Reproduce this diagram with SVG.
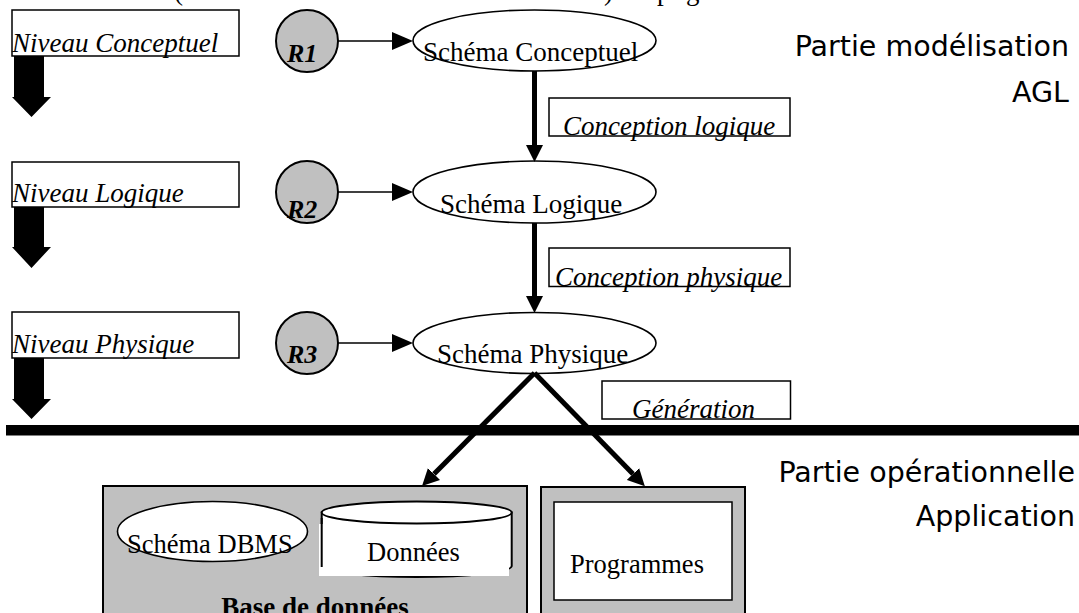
<svg xmlns="http://www.w3.org/2000/svg" width="1079" height="613" viewBox="0 0 1079 613">
<style>
.box{fill:#fff;stroke:#000;stroke-width:1.5}
.ell{fill:#fff;stroke:#000;stroke-width:1.6}
.circ{fill:#c0c0c0;stroke:#000;stroke-width:2}
.gray{fill:#c0c0c0;stroke:#000;stroke-width:2}
.it{font-family:"Liberation Serif","Times New Roman",serif;font-style:italic;font-size:27px;fill:#000}
.rm{font-family:"Liberation Serif","Times New Roman",serif;font-size:27px;fill:#000}
.rl{font-family:"Liberation Serif","Times New Roman",serif;font-style:italic;font-weight:bold;font-size:26px;fill:#000}
.bd{font-family:"Liberation Serif","Times New Roman",serif;font-weight:bold;font-size:27px;fill:#000}
.cm{font-family:"DejaVu Sans",sans-serif;font-size:28.5px;fill:#000}
.thin{stroke:#000;stroke-width:1.3;fill:none}
.thick{stroke:#000;stroke-width:5;fill:none}
.blk{fill:#000}
</style>
<defs>
<marker id="hThin" markerUnits="userSpaceOnUse" markerWidth="21" markerHeight="18" refX="0" refY="9" orient="auto">
<path d="M0,0 L21,9 L0,18 z" fill="#000"/>
</marker>
<marker id="hThick" markerUnits="userSpaceOnUse" markerWidth="17" markerHeight="17" refX="0" refY="8.5" orient="auto">
<path d="M0,0 L17,8.5 L0,17 z" fill="#000"/>
</marker>
</defs>
<rect width="1079" height="613" fill="#fff"/>

<text id="top-cut" class="rm" y="0"><tspan x="174">(</tspan><tspan x="604">)</tspan><tspan x="657">p</tspan><tspan x="686">g</tspan></text>

<g id="niveau-conceptuel">
<rect class="box" x="12" y="10" width="227" height="46"/>
<text class="it" x="12" y="52">Niveau Conceptuel</text>
</g>
<g id="niveau-logique">
<rect class="box" x="12" y="162" width="227" height="45"/>
<text class="it" x="12" y="202">Niveau Logique</text>
</g>
<g id="niveau-physique">
<rect class="box" x="12" y="312" width="227" height="46"/>
<text class="it" x="12" y="353">Niveau Physique</text>
</g>

<g id="level-arrows">
<path class="blk" d="M14,56 L44,56 L44,97 L51,97 L31.5,117 L12,97 L14,97 z"/>
<path class="blk" d="M14,207 L44,207 L44,247 L51,247 L31.5,268 L12,247 L14,247 z"/>
<path class="blk" d="M14,358 L44,358 L44,399 L51,399 L31.5,419 L12,399 L14,399 z"/>
</g>

<g id="r1">
<circle class="circ" cx="307" cy="41" r="31"/>
<text class="rl" x="287" y="62">R1</text>
</g>
<g id="r2">
<circle class="circ" cx="307" cy="192" r="31"/>
<text class="rl" x="287" y="218">R2</text>
</g>
<g id="r3">
<circle class="circ" cx="307" cy="343" r="31"/>
<text class="rl" x="287" y="363">R3</text>
</g>

<g id="schema-conceptuel">
<ellipse class="ell" cx="534.5" cy="40.5" rx="121.5" ry="30.5"/>
<text class="rm" x="423" y="61">Schéma Conceptuel</text>
</g>
<g id="schema-logique">
<ellipse class="ell" cx="534.5" cy="192" rx="121.5" ry="31"/>
<text class="rm" x="440" y="213">Schéma Logique</text>
</g>
<g id="schema-physique">
<ellipse class="ell" cx="534.5" cy="343" rx="121.5" ry="30.5"/>
<text class="rm" x="437" y="363">Schéma Physique</text>
</g>

<g id="conception-logique">
<rect class="box" x="549" y="98" width="241" height="38"/>
<text class="it" x="563" y="135">Conception logique</text>
</g>
<g id="conception-physique">
<rect class="box" x="549" y="248" width="241" height="38.5"/>
<text class="it" x="555" y="285.5">Conception physique</text>
</g>
<g id="generation">
<rect class="box" x="602" y="381" width="188.5" height="38"/>
<text class="it" x="632" y="418">Génération</text>
</g>

<g id="separator">
<rect class="blk" x="6" y="425" width="1073" height="10.5"/>
</g>

<g id="connectors">
<line class="thin" x1="338" y1="41" x2="392" y2="41" marker-end="url(#hThin)"/>
<line class="thin" x1="338" y1="192" x2="392" y2="192" marker-end="url(#hThin)"/>
<line class="thin" x1="338" y1="343" x2="392" y2="343" marker-end="url(#hThin)"/>
<line class="thick" x1="534.5" y1="71" x2="534.5" y2="145" marker-end="url(#hThick)"/>
<line class="thick" x1="534.5" y1="223" x2="534.5" y2="296" marker-end="url(#hThick)"/>
<line class="thick" x1="534.5" y1="373" x2="434" y2="474" marker-end="url(#hThick)"/>
<line class="thick" x1="534.5" y1="373" x2="633" y2="474" marker-end="url(#hThick)"/>
</g>

<g id="base-de-donnees">
<rect class="gray" x="103" y="486" width="424" height="140"/>
<g id="schema-dbms">
<ellipse class="ell" cx="212.5" cy="531.5" rx="95" ry="30"/>
<text class="rm" x="127" y="553" style="font-size:26.5px">Schéma DBMS</text>
</g>
<g id="donnees">
<path d="M321.7,512.5 L321.7,566 A95,11 0 0 0 511.7,566 L511.7,512.5 z" fill="#fff" stroke="#000" stroke-width="2"/>
<rect x="319" y="524" width="190" height="52" fill="#fff"/>
<line x1="321.7" y1="518" x2="321.7" y2="567" stroke="#000" stroke-width="2"/>
<ellipse cx="416.7" cy="512.5" rx="95" ry="11" fill="#fff" stroke="#000" stroke-width="2"/>
<text class="rm" x="367" y="561" style="font-size:26.5px">Données</text>
</g>
<text class="bd" x="315" y="616" text-anchor="middle">Base de données</text>
</g>

<g id="programmes">
<rect class="gray" x="541" y="487" width="204" height="140"/>
<rect class="box" x="554" y="502" width="178" height="98"/>
<text class="rm" x="570" y="573" style="font-size:26.5px">Programmes</text>
</g>

<g id="partie-modelisation">
<text class="cm" x="1069" y="56" text-anchor="end">Partie modélisation</text>
<text class="cm" x="1069" y="102" text-anchor="end">AGL</text>
</g>
<g id="partie-operationnelle">
<text class="cm" x="1075" y="482" text-anchor="end">Partie opérationnelle</text>
<text class="cm" x="1075" y="526" text-anchor="end">Application</text>
</g>
</svg>
